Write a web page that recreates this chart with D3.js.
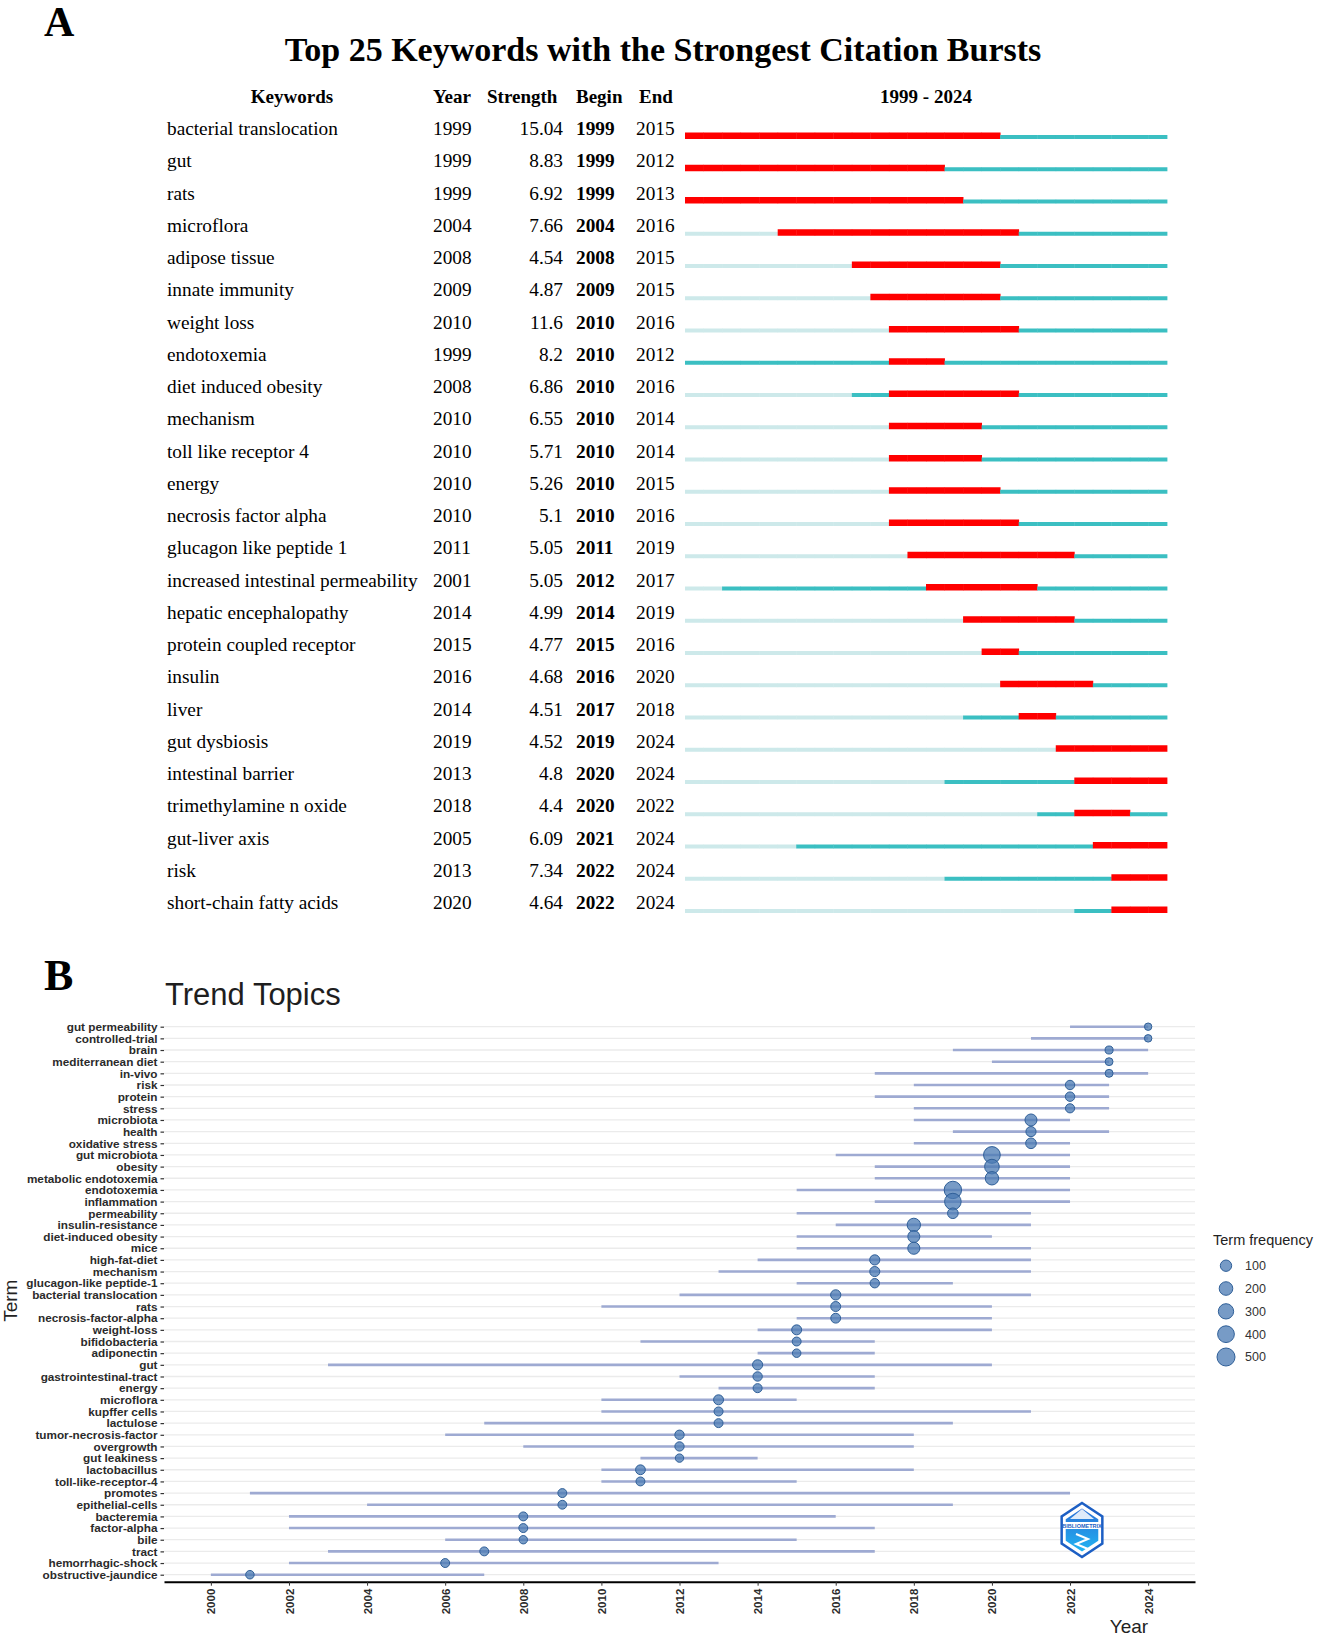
<!DOCTYPE html>
<meta charset="utf-8">
<script src="https://d3js.org/d3.v7.min.js"></script>
<style>
  body { margin: 0px; background: #fff; }
  .serif { font-family: "Liberation Serif", "Times New Roman", serif; }
  .sans { font-family: "Liberation Sans", Arial, sans-serif; }
</style>
<div id="my_dataviz"></div>
<script>

// ---------- panel A : citation bursts ----------
const kwNames = ["bacterial translocation", "gut", "rats", "microflora", "adipose tissue",
  "innate immunity", "weight loss", "endotoxemia", "diet induced obesity", "mechanism",
  "toll like receptor 4", "energy", "necrosis factor alpha", "glucagon like peptide 1",
  "increased intestinal permeability", "hepatic encephalopathy", "protein coupled receptor",
  "insulin", "liver", "gut dysbiosis", "intestinal barrier", "trimethylamine n oxide",
  "gut-liver axis", "risk", "short-chain fatty acids"];
const kwYear = [1999, 1999, 1999, 2004, 2008, 2009, 2010, 1999, 2008, 2010, 2010, 2010, 2010,
  2011, 2001, 2014, 2015, 2016, 2014, 2019, 2013, 2018, 2005, 2013, 2020];
const kwStrength = ["15.04", "8.83", "6.92", "7.66", "4.54", "4.87", "11.6", "8.2", "6.86", "6.55",
  "5.71", "5.26", "5.1", "5.05", "5.05", "4.99", "4.77", "4.68", "4.51", "4.52", "4.8", "4.4",
  "6.09", "7.34", "4.64"];
const kwBegin = [1999, 1999, 1999, 2004, 2008, 2009, 2010, 2010, 2010, 2010, 2010, 2010, 2010,
  2011, 2012, 2014, 2015, 2016, 2017, 2019, 2020, 2020, 2021, 2022, 2022];
const kwEnd = [2015, 2012, 2013, 2016, 2015, 2015, 2016, 2012, 2016, 2014, 2014, 2015, 2016,
  2019, 2017, 2019, 2016, 2020, 2018, 2024, 2024, 2022, 2024, 2024, 2024];
const burstYears = d3.range(1999, 2025);

// ---------- panel B : trend topics ----------
const terms = ["gut permeability", "controlled-trial", "brain", "mediterranean diet", "in-vivo",
  "risk", "protein", "stress", "microbiota", "health", "oxidative stress", "gut microbiota",
  "obesity", "metabolic endotoxemia", "endotoxemia", "inflammation", "permeability",
  "insulin-resistance", "diet-induced obesity", "mice", "high-fat-diet", "mechanism",
  "glucagon-like peptide-1", "bacterial translocation", "rats", "necrosis-factor-alpha",
  "weight-loss", "bifidobacteria", "adiponectin", "gut", "gastrointestinal-tract", "energy",
  "microflora", "kupffer cells", "lactulose", "tumor-necrosis-factor", "overgrowth",
  "gut leakiness", "lactobacillus", "toll-like-receptor-4", "promotes", "epithelial-cells",
  "bacteremia", "factor-alpha", "bile", "tract", "hemorrhagic-shock", "obstructive-jaundice"];
const medianYear = [2024, 2024, 2023, 2023, 2023, 2022, 2022, 2022, 2021, 2021, 2021, 2020,
  2020, 2020, 2019, 2019, 2019, 2018, 2018, 2018, 2017, 2017, 2017, 2016, 2016, 2016, 2015,
  2015, 2015, 2014, 2014, 2014, 2013, 2013, 2013, 2012, 2012, 2012, 2011, 2011, 2009, 2009,
  2008, 2008, 2008, 2007, 2006, 2001];
const q1Year = [2022, 2021, 2019, 2020, 2017, 2018, 2017, 2018, 2018, 2019, 2018, 2016, 2017,
  2017, 2015, 2017, 2015, 2016, 2015, 2015, 2014, 2013, 2015, 2012, 2010, 2015, 2014, 2011,
  2014, 2003, 2012, 2013, 2010, 2010, 2007, 2006, 2008, 2011, 2010, 2010, 2001, 2004, 2002,
  2002, 2006, 2003, 2002, 2000];
const q3Year = [2024, 2024, 2024, 2023, 2024, 2023, 2023, 2023, 2022, 2023, 2022, 2022, 2022,
  2022, 2022, 2022, 2021, 2021, 2020, 2021, 2021, 2021, 2019, 2021, 2020, 2020, 2020, 2017,
  2017, 2020, 2017, 2017, 2015, 2021, 2019, 2018, 2018, 2014, 2018, 2015, 2022, 2019, 2016,
  2017, 2015, 2017, 2013, 2007];
const termFreq = [7, 8, 14, 12, 13, 40, 42, 35, 125, 60, 75, 400, 260, 190, 450, 390, 75, 190,
  125, 130, 60, 58, 40, 62, 55, 52, 55, 30, 22, 60, 40, 32, 55, 32, 30, 40, 38, 20, 50, 30,
  30, 28, 30, 30, 20, 30, 30, 22];
const legendFreq = [100, 200, 300, 400, 500];
const xTicks = d3.range(2000, 2025, 2);

const W = 1322, H = 1637;
const svg = d3.select("#my_dataviz").append("svg")
  .attr("width", W).attr("height", H)
  .style("background", "#fff");

// ================= PANEL A =================
svg.append("text").attr("class", "serif")
  .attr("x", 44).attr("y", 36)
  .style("font-size", "42px").style("font-weight", "bold")
  .text("A");

svg.append("text").attr("class", "serif")
  .attr("x", 663).attr("y", 61)
  .attr("text-anchor", "middle")
  .style("font-size", "34px").style("font-weight", "bold")
  .text("Top 25 Keywords with the Strongest Citation Bursts");

const rowY = d3.scalePoint().domain(kwNames).range([135, 135 + 24 * 32.25]);
const yearX = d3.scaleBand().domain(burstYears).range([685, 1167]);

const headY = 103;
const gHead = svg.append("g").attr("class", "serif")
  .style("font-size", "19px").style("font-weight", "bold");
gHead.append("text").attr("x", 292).attr("y", headY).attr("text-anchor", "middle").text("Keywords");
gHead.append("text").attr("x", 433).attr("y", headY).text("Year");
gHead.append("text").attr("x", 487).attr("y", headY).text("Strength");
gHead.append("text").attr("x", 576).attr("y", headY).text("Begin");
gHead.append("text").attr("x", 639).attr("y", headY).text("End");
gHead.append("text").attr("x", (yearX.range()[0] + yearX.range()[1]) / 2).attr("y", headY)
  .attr("text-anchor", "middle").text("1999 - 2024");

const rows = svg.append("g").attr("class", "serif").style("font-size", "19.3px")
  .selectAll("g").data(kwNames).enter().append("g");
rows.append("text").attr("x", 167).attr("y", d => rowY(d)).text(d => d);
rows.append("text").attr("x", 433).attr("y", d => rowY(d)).text((d, i) => kwYear[i]);
rows.append("text").attr("x", 563).attr("y", d => rowY(d)).attr("text-anchor", "end")
  .text((d, i) => kwStrength[i]);
rows.append("text").attr("x", 576).attr("y", d => rowY(d)).style("font-weight", "bold")
  .text((d, i) => kwBegin[i]);
rows.append("text").attr("x", 636).attr("y", d => rowY(d)).text((d, i) => kwEnd[i]);

// bars: one cell per year
const cellColor = (i, yr) => {
  if (yr >= kwBegin[i] && yr <= kwEnd[i]) return "#ff0000";
  if (yr < kwYear[i]) return "#cde9ea";
  return "#3bbfc2";
};
kwNames.forEach((kw, i) => {
  const base = rowY(kw) + 4;
  svg.append("g").selectAll("rect").data(burstYears).enter().append("rect")
    .attr("x", yr => yearX(yr))
    .attr("width", yearX.bandwidth() + 0.4)
    .attr("y", yr => (yr >= kwBegin[i] && yr <= kwEnd[i]) ? base - 6.5 : base - 4)
    .attr("height", yr => (yr >= kwBegin[i] && yr <= kwEnd[i]) ? 6.5 : 4)
    .style("fill", yr => cellColor(i, yr));
});

// ================= PANEL B =================
svg.append("text").attr("class", "serif")
  .attr("x", 44).attr("y", 990)
  .style("font-size", "44px").style("font-weight", "bold")
  .text("B");

svg.append("text").attr("class", "sans")
  .attr("x", 165).attr("y", 1005)
  .style("font-size", "31px").style("fill", "#1e1e1e")
  .text("Trend Topics");

const pLeft = 164, pRight = 1195, pTop = 1019.7, pBottom = 1581.7;
const x = d3.scaleLinear().domain([1998.8, 2025.2]).range([pLeft, pRight]);
const y = d3.scalePoint().domain(terms).range([pTop, pBottom]).padding(0.6);
const rSize = d3.scaleSqrt().domain([0, 500]).range([3, 9]);

// horizontal grid
svg.append("g").selectAll("line").data(terms).enter().append("line")
  .attr("x1", pLeft).attr("x2", pRight)
  .attr("y1", d => y(d)).attr("y2", d => y(d))
  .style("stroke", "#ebebeb").style("stroke-width", 1.3);

// segments q1 -> q3
svg.append("g").selectAll("line").data(terms).enter().append("line")
  .attr("x1", (d, i) => x(q1Year[i])).attr("x2", (d, i) => x(q3Year[i]))
  .attr("y1", d => y(d)).attr("y2", d => y(d))
  .style("stroke", "#9eaad2").style("stroke-width", 2.6);

// points
svg.append("g").selectAll("circle").data(terms).enter().append("circle")
  .attr("cx", (d, i) => x(medianYear[i]))
  .attr("cy", d => y(d))
  .attr("r", (d, i) => rSize(termFreq[i]))
  .style("fill", "#4a7ab3").style("fill-opacity", 0.75)
  .style("stroke", "#2f5f98").style("stroke-width", 1);

// y axis
const yAxis = svg.append("g").attr("class", "sans")
  .attr("transform", `translate(${pLeft},0)`)
  .call(d3.axisLeft(y).tickSize(3.5).tickPadding(3));
yAxis.select(".domain").remove();
yAxis.selectAll(".tick line").style("stroke", "#333").style("stroke-width", 1.2);
yAxis.selectAll(".tick text").style("font-size", "11.75px").style("font-weight", "bold")
  .style("fill", "#2b2b2b").style("font-family", "Liberation Sans, Arial, sans-serif");

// x axis
const xAxis = svg.append("g").attr("class", "sans")
  .attr("transform", `translate(0,${pBottom})`)
  .call(d3.axisBottom(x).tickValues(xTicks).tickFormat(d3.format("d")).tickSize(4).tickSizeOuter(0));
xAxis.select(".domain").style("stroke", "#000").style("stroke-width", 2);
xAxis.selectAll(".tick line").style("stroke", "#333");
xAxis.selectAll(".tick text")
  .style("font-size", "11.5px").style("font-weight", "bold").style("fill", "#2b2b2b")
  .style("font-family", "Liberation Sans, Arial, sans-serif")
  .attr("transform", "rotate(-90)")
  .attr("text-anchor", "end")
  .attr("x", -7).attr("y", 0).attr("dy", "0.35em");

// axis titles
svg.append("text").attr("class", "sans")
  .attr("transform", `translate(17,${(pTop + pBottom) / 2}) rotate(-90)`)
  .attr("text-anchor", "middle")
  .style("font-size", "19px").style("fill", "#222")
  .text("Term");
svg.append("text").attr("class", "sans")
  .attr("x", x(2024)).attr("y", 1633)
  .attr("text-anchor", "end")
  .style("font-size", "19px").style("fill", "#222")
  .text("Year");

// legend
const legY = d3.scalePoint().domain(legendFreq).range([1265.7, 1357]);
svg.append("text").attr("class", "sans")
  .attr("x", 1213).attr("y", 1245)
  .style("font-size", "14.5px").style("fill", "#222")
  .text("Term frequency");
const leg = svg.append("g").selectAll("g").data(legendFreq).enter().append("g");
leg.append("circle")
  .attr("cx", 1226).attr("cy", d => legY(d)).attr("r", d => rSize(d))
  .style("fill", "#4a7ab3").style("fill-opacity", 0.75)
  .style("stroke", "#2f5f98").style("stroke-width", 1);
leg.append("text").attr("class", "sans")
  .attr("x", 1245).attr("y", d => legY(d)).attr("dy", "0.35em")
  .style("font-size", "12.5px").style("fill", "#333")
  .text(d => d);

// bibliometrix badge (small hexagon logo)
const defs = svg.append("defs");
const grad = defs.append("linearGradient").attr("id", "logoGrad")
  .attr("x1", "0").attr("y1", "0").attr("x2", "0").attr("y2", "1");
grad.append("stop").attr("offset", "0").attr("stop-color", "#2a6fd6");
grad.append("stop").attr("offset", "1").attr("stop-color", "#22b4f2");
const lx = 1082, ly = 1530, lr = 27;
const hex = d3.range(6).map(k => {
  const a = Math.PI / 3 * k - Math.PI / 2;
  return [lx + lr * 0.87 * Math.cos(a), ly + lr * Math.sin(a)];
});
svg.append("polygon").attr("points", hex.map(p => p.join(",")).join(" "))
  .style("fill", "#fff").style("stroke", "#1d5fc4").style("stroke-width", 2.5);
const hexIn = hex.map(p => [lx + (p[0] - lx) * 0.8, ly + (p[1] - ly) * 0.8]);
svg.append("polygon").attr("points", hexIn.map(p => p.join(",")).join(" "))
  .style("fill", "url(#logoGrad)");
svg.append("rect").attr("x", lx - 19).attr("y", ly - 8).attr("width", 38).attr("height", 7)
  .style("fill", "#fff");
svg.append("text").attr("class", "sans")
  .attr("x", lx).attr("y", ly - 2.3).attr("text-anchor", "middle")
  .style("font-size", "5.5px").style("font-weight", "bold").style("fill", "#1d5fc4")
  .text("BIBLIOMETRIX");
svg.append("path")
  .attr("d", `M${lx - 12},${ly - 11} L${lx},${ly - 21} L${lx + 12},${ly - 11} Z`)
  .style("fill", "#fff").style("opacity", 0.85);
svg.append("path")
  .attr("d", `M${lx - 6},${ly + 4} L${lx + 6},${ly + 9} L${lx - 6},${ly + 14} L${lx + 6},${ly + 19}`)
  .style("fill", "none").style("stroke", "#fff").style("stroke-width", 2);

</script>
